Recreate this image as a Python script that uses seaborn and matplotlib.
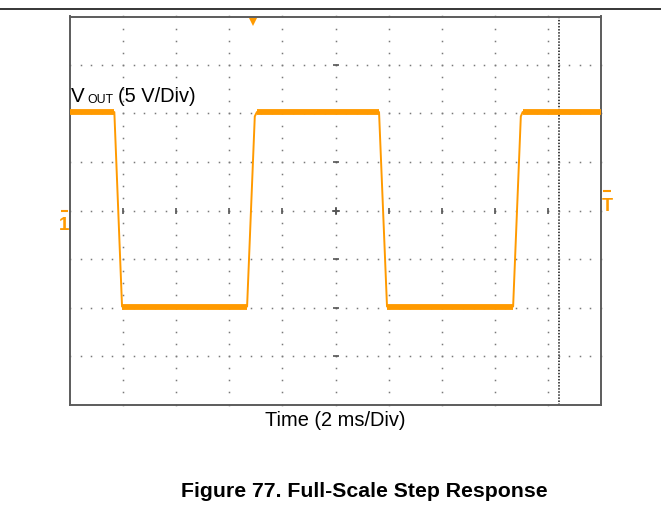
import numpy as np
import matplotlib
matplotlib.use("Agg")
import matplotlib.pyplot as plt
import matplotlib.transforms as mtransforms
from matplotlib.lines import Line2D
import seaborn as sns

# ---- data read from the scope capture ----
time_ms = [0.0, 1.67, 1.96, 6.67, 6.96, 7.04, 11.64, 11.94, 16.69, 16.98, 17.05, 20.0]
vout_v = [10.15, 10.15, -9.9, -9.9, 9.7, 10.15, 10.15, -9.9, -9.9, 9.7, 10.15, 10.15]

plateau_start_ms = [0.0, 1.96, 7.04, 11.94, 17.05]
plateau_end_ms = [1.67, 6.67, 11.64, 16.69, 20.0]
plateau_level_v = [10.15, -9.9, 10.15, -9.9, 10.15]

trigger_time_ms = [6.9]
trigger_level_v = [2.0]
ground_level_v = [0.0]
cursor_time_ms = [18.4]

x_range_ms = [0, 20]
y_range_v = [-20, 20]
n_xdiv, n_ydiv = 10, 8

trace_label = ("V", "OUT", "(5 V/Div)")
x_label = "Time (2 ms/Div)"
caption = "Figure 77. Full-Scale Step Response"

ORANGE = "#FF9A00"
GRID = "#7a7a7a"
FONT = "Liberation Sans"

sns.set_style("white")
plt.rcParams["font.family"] = [FONT, "DejaVu Sans"]

fig = plt.figure(figsize=(6.61, 5.24), dpi=100)
W, H = 661, 524
L, R, T, B = 70, 601, 16.5, 404.5
ax = fig.add_axes([L / W, 1 - B / H, (R - L) / W, (B - T) / H])
ax.set_xlim(*x_range_ms)
ax.set_ylim(*y_range_v)
ax.set_xticks([])
ax.set_yticks([])
for s in ax.spines.values():
    s.set_color("#5c5c5c")
    s.set_linewidth(1.4)

xdiv = (x_range_ms[1] - x_range_ms[0]) / n_xdiv
ydiv = (y_range_v[1] - y_range_v[0]) / n_ydiv

# dotted graticule
for k in range(1, n_xdiv):
    xs = x_range_ms[0] + k * xdiv
    ys = np.linspace(y_range_v[0], y_range_v[1], n_ydiv * 4 + 1)
    ax.plot(np.full_like(ys, xs), ys, ls="none", marker="s", ms=1.1, mew=0,
            color=GRID, zorder=1, clip_on=False)
for m in range(1, n_ydiv):
    ys = y_range_v[0] + m * ydiv
    xs = np.linspace(x_range_ms[0], x_range_ms[1], n_xdiv * 5 + 1)
    ax.plot(xs, np.full_like(xs, ys), ls="none", marker="s", ms=1.1, mew=0,
            color=GRID, zorder=1, clip_on=False)

xc = (x_range_ms[0] + x_range_ms[1]) / 2
yc = (y_range_v[0] + y_range_v[1]) / 2
vx = [x_range_ms[0] + k * xdiv for k in range(1, n_xdiv)]
hy = [y_range_v[0] + m * ydiv for m in range(1, n_ydiv)]
ax.plot(vx, [yc] * len(vx), ls="none", marker="|", ms=4.0, mew=1.2, color="#555555", zorder=1)
ax.plot([xc] * len(hy), hy, ls="none", marker="_", ms=4.0, mew=1.2, color="#555555", zorder=1)
ax.plot([xc], [yc], ls="none", marker="+", ms=5.5, mew=1.1, color="#555555", zorder=1)

# cursor
ax.axvline(cursor_time_ms[0], color="#333333", lw=1.3, ls=(0, (0.8, 0.9)), zorder=1)

# waveform
sns.lineplot(x=time_ms, y=vout_v, ax=ax, color=ORANGE, lw=1.4, estimator=None,
             sort=False, zorder=3)
ax.hlines(plateau_level_v, plateau_start_ms, plateau_end_ms, color=ORANGE, lw=4.2,
          zorder=4, capstyle="butt")

# trigger position marker
ax.plot(trigger_time_ms, [y_range_v[1] - 0.6], ls="none", marker="v", ms=5.5,
        color=ORANGE, mew=0, clip_on=False, zorder=5)

# channel ground marker (left)
blend_l = mtransforms.blended_transform_factory(ax.transAxes, ax.transData)
ax.plot([-0.0175, -0.004], [ground_level_v[0]] * 2, color=ORANGE, lw=1.5,
        transform=blend_l, clip_on=False, solid_capstyle="butt")
ax.annotate("1", xy=(0, ground_level_v[0]), xycoords=blend_l, xytext=(-4.4, -14.0),
            textcoords="offset points", ha="center", va="baseline", color=ORANGE,
            fontsize=13.5, fontweight="bold", annotation_clip=False)

# trigger level marker (right)
ax.plot([1.0045, 1.019], [trigger_level_v[0]] * 2, color=ORANGE, lw=1.5,
        transform=blend_l, clip_on=False, solid_capstyle="butt")
ax.annotate("T", xy=(1, trigger_level_v[0]), xycoords=blend_l, xytext=(4.3, -14.0),
            textcoords="offset points", ha="center", va="baseline", color=ORANGE,
            fontsize=13, fontweight="bold", annotation_clip=False)

# channel label
t1 = ax.annotate(trace_label[0], xy=(0, 1), xycoords="axes fraction", xytext=(0.5, -61.3),
                 textcoords="offset points", ha="left", va="baseline", fontsize=14.8,
                 color="black")
t2 = ax.annotate(trace_label[1], xy=(1, 0), xycoords=t1, xytext=(2.3, 0),
                 textcoords="offset points", ha="left", va="bottom", fontsize=8.8,
                 color="black")
t3 = ax.annotate(trace_label[2], xy=(1, 0), xycoords=(t2, t1), xytext=(3.0, 0),
                 textcoords="offset points", ha="left", va="bottom", fontsize=14.4,
                 color="black")

# x label
ax.annotate(x_label, xy=(0.5, 0), xycoords="axes fraction", xytext=(0, -15.5),
            textcoords="offset points", ha="center", va="baseline", fontsize=14.4,
            color="black")

# top rule
fig.add_artist(Line2D([0, 1], [1 - 9 / H] * 2, transform=fig.transFigure,
                      color="black", lw=1.1))

# caption
fig.text(364 / W, 1 - 496.7 / H, caption, ha="center", va="baseline", fontsize=15.3,
         fontweight="bold", color="black")

fig.savefig("out.png", dpi=100)
